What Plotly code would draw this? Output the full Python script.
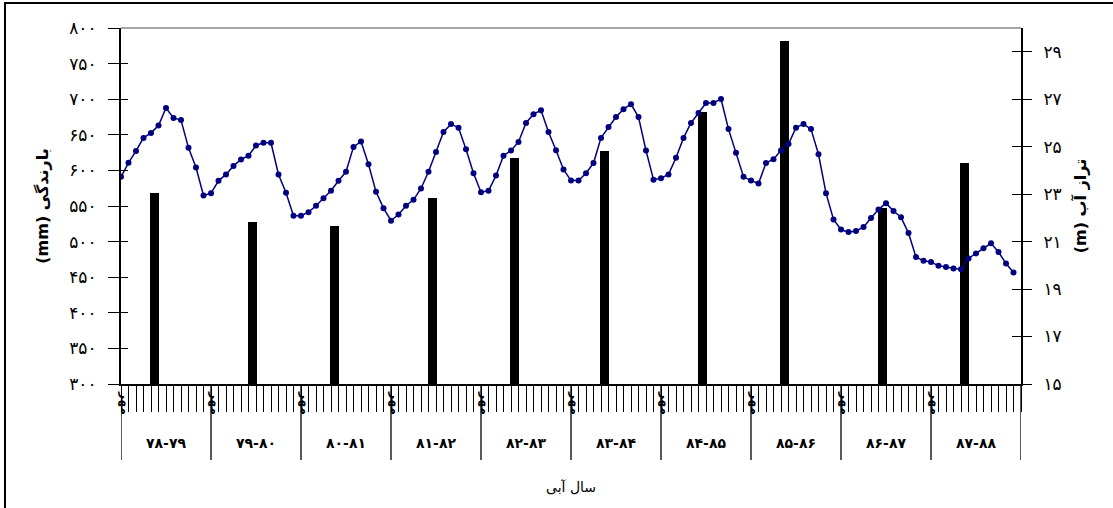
import plotly.graph_objects as go

# ---------------- data ----------------
years = ["۷۸-۷۹", "۷۹-۸۰", "۸۰-۸۱", "۸۱-۸۲", "۸۲-۸۳",
         "۸۳-۸۴", "۸۴-۸۵", "۸۵-۸۶", "۸۶-۸۷", "۸۷-۸۸"]
month_label = "مهر"

# annual rainfall (mm), left axis
rainfall = [568, 527, 522, 561, 617, 627, 682, 782, 547, 611]
# month (within water year) at which each annual bar is drawn
bar_month = [4.5, 5.5, 4.5, 5.5, 4.5, 4.5, 5.5, 4.5, 5.5, 4.5]

# monthly water level (m), right axis, 12 months x 10 years
water_level = [
    23.73, 24.32, 24.82, 25.37, 25.58, 25.89, 26.63, 26.21, 26.12, 24.95, 24.12, 22.94,
    23.04, 23.56, 23.83, 24.19, 24.46, 24.62, 25.05, 25.16, 25.16, 23.83, 23.06, 22.09,
    22.09, 22.24, 22.51, 22.83, 23.14, 23.56, 23.94, 24.99, 25.22, 24.26, 23.10, 22.41,
    21.88, 22.14, 22.51, 22.76, 23.24, 23.94, 24.78, 25.62, 25.95, 25.80, 24.89, 23.88,
    23.08, 23.14, 23.78, 24.62, 24.84, 25.20, 26.00, 26.37, 26.53, 25.62, 24.85, 24.04,
    23.57, 23.57, 23.88, 24.31, 25.37, 25.83, 26.25, 26.58, 26.79, 26.25, 24.84, 23.61,
    23.67, 23.83, 24.53, 25.37, 26.00, 26.42, 26.84, 26.84, 27.01, 25.74, 24.74, 23.73,
    23.57, 23.45, 24.31, 24.47, 24.84, 25.11, 25.80, 25.95, 25.74, 24.68, 23.04, 21.93,
    21.51, 21.40, 21.45, 21.61, 21.99, 22.35, 22.62, 22.29, 22.03, 21.36, 20.35, 20.19,
    20.14, 19.98, 19.93, 19.87, 19.83, 20.29, 20.50, 20.72, 20.93, 20.56, 20.08, 19.70,
]

left_ticks = [300, 350, 400, 450, 500, 550, 600, 650, 700, 750, 800]
right_ticks = [15, 17, 19, 21, 23, 25, 27, 29]

left_title = "(mm) بارندگی"
right_title = "(m) تراز آب"
x_title = "سال آبی"

# ---------------- helpers ----------------
FA = str.maketrans("0123456789", "۰۱۲۳۴۵۶۷۸۹")


def fa(n):
    return str(n).translate(FA)


n_months = len(water_level)
month_x = list(range(n_months))
bar_x = [12 * k + m for k, m in enumerate(bar_month)]

FONT = "DejaVu Sans"
NAVY = "#000080"

fig = go.Figure()

fig.add_trace(go.Bar(
    x=bar_x, y=rainfall, width=1.2,
    marker=dict(color="black", line=dict(width=0)),
    yaxis="y", showlegend=False,
))

fig.add_trace(go.Scatter(
    x=month_x, y=water_level, mode="lines+markers",
    line=dict(color=NAVY, width=1.5),
    marker=dict(color=NAVY, size=6),
    yaxis="y2", showlegend=False,
))

# invisible traces to anchor the "inside" tick overlays
fig.add_trace(go.Scatter(x=[None], y=[None], yaxis="y3", showlegend=False, hoverinfo="skip"))
fig.add_trace(go.Scatter(x=[None], y=[None], yaxis="y4", showlegend=False, hoverinfo="skip"))

shapes = []
annotations = []

# outer frame (only top & left visible)
shapes.append(dict(type="rect", xref="paper", yref="paper",
                   x0=-0.1289, x1=1.2, y0=-0.6, y1=1.0702,
                   line=dict(color="black", width=2), layer="below"))
# grey top border of plot area
shapes.append(dict(type="line", xref="paper", yref="paper",
                   x0=0, x1=1, y0=1, y1=1,
                   line=dict(color="#a6a6a6", width=2)))

# year separators, year labels, first-month labels
for k in range(len(years) + 1):
    shapes.append(dict(type="line", xref="x", yref="paper",
                       x0=12 * k, x1=12 * k, y0=0, y1=-0.2135,
                       line=dict(color="black", width=1.3)))
for k, yl in enumerate(years):
    annotations.append(dict(x=12 * k + 6, y=-0.166, xref="x", yref="paper",
                            text="<b>" + yl + "</b>", showarrow=False,
                            font=dict(family=FONT, size=14, color="black"),
                            xanchor="center", yanchor="middle"))
    annotations.append(dict(x=12 * k + 0.6, y=-0.052, xref="x", yref="paper",
                            text="<b>" + month_label + "</b>", showarrow=False,
                            textangle=90,
                            font=dict(family=FONT, size=12, color="black"),
                            xanchor="center", yanchor="middle"))

annotations.append(dict(x=0.5, y=-0.289, xref="paper", yref="paper",
                        text=x_title, showarrow=False,
                        font=dict(family=FONT, size=14, color="black"),
                        xanchor="center", yanchor="middle"))

fig.update_layout(
    width=1113, height=508,
    margin=dict(l=121, r=92, t=28, b=124, pad=0),
    paper_bgcolor="white", plot_bgcolor="white",
    font=dict(family=FONT, color="black"),
    bargap=0,
    xaxis=dict(range=[0, 120], tickmode="array", tickvals=list(range(0, 121)),
               showticklabels=False, ticks="outside", ticklen=26, tickwidth=1,
               tickcolor="black", showline=True, linecolor="black", linewidth=1.5,
               showgrid=False, zeroline=False, fixedrange=True),
    yaxis=dict(range=[300, 800], tickmode="array", tickvals=left_ticks,
               ticktext=[fa(v) for v in left_ticks],
               ticks="outside", ticklen=11, tickwidth=1.2, tickcolor="black",
               ticklabelstandoff=8,
               showline=True, linecolor="black", linewidth=2,
               showgrid=False, zeroline=False,
               tickfont=dict(family=FONT, size=17),
               title=dict(text="<b>" + left_title + "</b>", standoff=17,
                          font=dict(family=FONT, size=16))),
    yaxis2=dict(range=[15, 30], overlaying="y", side="right", anchor="x",
                tickmode="array", tickvals=right_ticks,
                ticktext=[fa(v) for v in right_ticks],
                ticks="outside", ticklen=9, tickwidth=1.2, tickcolor="black",
                ticklabelstandoff=8,
                showline=True, linecolor="black", linewidth=2,
                showgrid=False, zeroline=False,
                tickfont=dict(family=FONT, size=17),
                title=dict(text="<b>" + right_title + "</b>", standoff=14,
                           font=dict(family=FONT, size=16))),
    yaxis3=dict(range=[300, 800], overlaying="y", side="left", anchor="x",
                tickmode="array", tickvals=left_ticks, showticklabels=False,
                ticks="inside", ticklen=7, tickwidth=1.2, tickcolor="black",
                showline=False, showgrid=False, zeroline=False),
    yaxis4=dict(range=[15, 30], overlaying="y", side="right", anchor="x",
                tickmode="array", tickvals=right_ticks, showticklabels=False,
                ticks="inside", ticklen=9, tickwidth=1.2, tickcolor="black",
                showline=False, showgrid=False, zeroline=False),
    shapes=shapes,
    annotations=annotations,
)

fig.write_html("out.html")
